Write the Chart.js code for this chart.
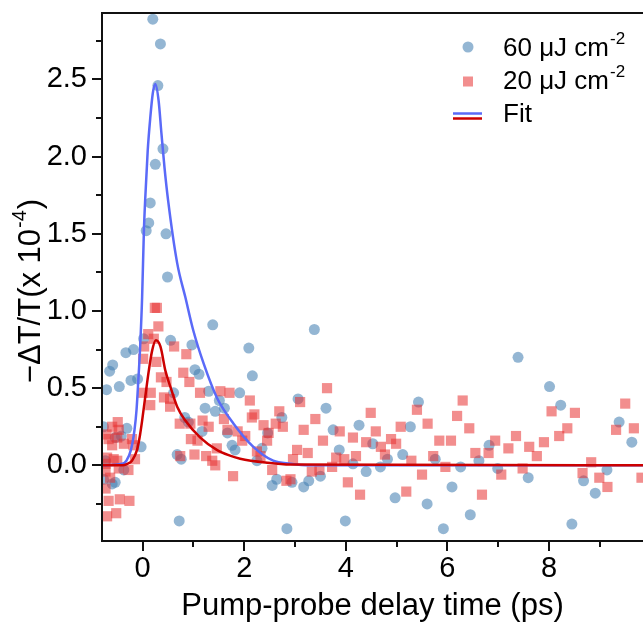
<!DOCTYPE html>
<html>
<head>
<meta charset="utf-8">
<script src="https://cdn.jsdelivr.net/npm/chart.js@4.4.0/dist/chart.umd.min.js"></script>
<style>
html,body{margin:0;padding:0;background:#fff;}
#wrap{width:643px;height:627px;position:relative;}
</style>
</head>
<body>
<div id="wrap"><canvas id="c" width="643" height="627"></canvas></div>
<script>
// ---- data ----
const blueLabel = '60 μJ cm⁻²';
const redLabel = '20 μJ cm⁻²';
const fitLabel = 'Fit';
const xTitle = 'Pump-probe delay time (ps)';
const yTitle = '−ΔT/T(x 10⁻⁴)';

const blueX = [0.20,0.35,0.30,0.40,0.25,0.15,0.12,0.07,0.46,0.49,1.38,2.09,0.55,0.97,0.02,-0.18,-0.33,-0.59,-0.65,2.16,1.03,1.11,-0.46,-0.71,-0.23,-0.10,0.61,1.30,1.91,1.51,1.61,1.43,1.23,0.83,0.90,-0.77,-0.31,-0.54,-0.42,-0.03,1.17,1.67,1.76,1.82,0.68,0.76,-0.73,-0.37,-0.54,-0.60,-0.77,0.72,3.06,3.61,2.74,4.26,3.75,2.46,3.87,2.35,2.25,4.14,3.50,2.64,3.27,2.94,2.55,3.17,3.99,2.84,3.38,5.43,5.27,4.53,6.82,5.12,4.82,5.76,6.62,4.68,6.26,6.99,4.40,6.09,4.97,5.60,6.45,5.92,8.01,8.23,9.38,9.63,7.59,8.68,9.14,8.91,8.45,7.39];
const blueY = [2.89,2.73,2.46,2.05,1.95,1.70,1.57,1.52,1.50,1.22,0.91,0.76,0.81,0.78,0.82,0.75,0.73,0.65,0.61,0.58,0.62,0.59,0.51,0.49,0.55,0.56,0.47,0.48,0.47,0.42,0.37,0.35,0.37,0.31,0.28,0.25,0.24,0.18,0.19,0.12,0.22,0.21,0.13,0.10,0.07,0.04,0.03,-0.03,-0.11,-0.12,-0.09,-0.36,0.43,0.37,0.31,0.26,0.23,0.21,0.10,0.11,0.03,0.01,-0.07,-0.09,-0.10,-0.11,-0.13,-0.14,-0.36,-0.41,0.88,0.41,0.25,0.14,0.13,0.07,0.04,0.04,0.03,-0.01,-0.01,-0.02,-0.04,-0.14,-0.21,-0.25,-0.32,-0.41,0.51,0.39,0.28,0.15,-0.08,-0.10,-0.03,-0.18,-0.38,0.70];

const redX = [0.24,0.28,0.31,0.11,0.22,0.03,0.62,0.01,0.27,0.86,0.36,0.80,0.92,0.47,0.00,0.16,0.42,0.54,0.15,0.54,1.13,1.53,1.71,2.11,0.73,0.94,1.18,1.30,1.60,2.20,2.15,2.69,2.76,2.38,2.62,0.95,1.08,1.67,1.87,2.02,1.96,1.46,1.25,1.02,1.37,1.43,2.55,1.78,2.25,0.74,-0.49,-0.60,-0.47,-0.71,-0.67,-0.50,-0.21,-0.18,-0.37,-0.60,-0.57,-0.50,-0.73,-0.15,-0.70,-0.47,-0.28,-0.73,-0.64,-0.73,-0.67,-0.45,-0.26,-0.70,-0.52,3.63,3.40,3.17,3.88,2.48,4.14,2.45,3.55,3.04,3.25,2.32,2.96,3.81,3.97,4.20,3.73,3.33,3.48,2.83,2.91,4.04,4.28,3.10,6.30,5.40,4.49,6.19,5.61,5.08,6.43,4.59,4.89,4.40,4.99,5.84,6.07,4.69,6.81,4.77,5.72,6.55,5.29,5.96,5.50,5.19,6.68,6.94,7.06,9.50,8.05,8.51,9.32,9.67,8.36,8.20,7.35,7.90,7.61,7.20,7.76,8.83,7.48,8.66,8.99,9.15,9.82];
const redY = [1.02,1.02,0.90,0.85,0.82,0.77,0.77,0.69,0.67,0.72,0.57,0.60,0.54,0.54,0.47,0.47,0.44,0.43,0.39,0.38,0.47,0.48,0.47,0.42,0.27,0.27,0.29,0.25,0.30,0.33,0.31,0.35,0.25,0.26,0.27,0.17,0.16,0.23,0.22,0.19,0.16,0.11,0.06,0.07,0.03,0.00,-0.03,-0.07,0.09,0.06,0.28,0.25,0.23,0.20,0.17,0.18,0.17,0.13,0.14,0.13,0.04,0.03,0.01,0.04,0.05,-0.02,-0.03,-0.04,-0.08,-0.15,-0.23,-0.22,-0.23,-0.33,-0.31,0.50,0.30,0.23,0.22,0.21,0.18,0.16,0.16,0.10,0.08,0.06,0.04,0.05,0.04,0.06,-0.01,-0.04,-0.03,-0.10,-0.09,-0.11,-0.19,0.41,0.42,0.36,0.34,0.32,0.27,0.25,0.24,0.22,0.17,0.15,0.14,0.16,0.16,0.12,0.08,0.07,0.06,0.08,0.03,-0.01,-0.06,-0.17,-0.19,0.16,-0.06,0.40,0.35,0.34,0.23,0.24,0.24,0.19,0.19,0.15,0.12,0.11,0.06,0.02,-0.02,-0.05,-0.08,-0.14,-0.08];

const blueFitX = [-0.80,-0.40,-0.32,-0.23,-0.16,-0.12,-0.085,-0.05,-0.01,0.025,0.05,0.10,0.15,0.20,0.25,0.315,0.37,0.43,0.50,0.68,0.84,1.00,1.20,1.46,1.79,2.18,2.57,2.91,3.30,9.85];
const blueFitY = [0,0.01,0.03,0.10,0.23,0.36,0.55,0.76,1.09,1.52,1.72,2.04,2.25,2.41,2.47,2.36,2.15,1.93,1.72,1.31,1.09,0.87,0.66,0.44,0.27,0.12,0.03,0.01,0,0];

const redFitX = [-0.80,-0.40,-0.30,-0.21,-0.11,-0.06,-0.01,0.05,0.12,0.185,0.26,0.35,0.45,0.545,0.68,0.84,1.135,1.46,1.72,1.92,2.45,2.91,9.85];
const redFitY = [0,0,0.01,0.03,0.10,0.18,0.29,0.44,0.61,0.74,0.81,0.77,0.61,0.51,0.38,0.29,0.18,0.10,0.063,0.043,0.017,0.005,0];

const xTickValues = [0,1,2,3,4,5,6,7,8,9];
const xTickLabels = ['0','','2','','4','','6','','8',''];
const yTickValues = [-0.25,0,0.25,0.5,0.75,1.0,1.25,1.5,1.75,2.0,2.25,2.5,2.75];
const yTickLabels = ['','0.0','','0.5','','1.0','','1.5','','2.0','','2.5',''];

// ---- styles ----
const FONT = '"Liberation Sans", Arial, Helvetica, sans-serif';
const bluePt = 'rgba(70,130,180,0.58)';
const redPt = 'rgba(232,50,50,0.55)';
const blueLine = '#5a6af8';
const redLine = '#cc0000';

const pts = (xs, ys) => xs.map((x, i) => ({x: x, y: ys[i]}));

// text with a raised, smaller superscript part: [base, sup, tail]
function drawSupText(ctx, parts, x, y, size, supSize, rise) {
  ctx.font = size + 'px ' + FONT;
  ctx.fillText(parts[0], x, y);
  let cx = x + ctx.measureText(parts[0]).width + 1;
  ctx.font = supSize + 'px ' + FONT;
  ctx.fillText(parts[1], cx, y - rise);
  cx += ctx.measureText(parts[1]).width + 1;
  if (parts[2]) {
    ctx.font = size + 'px ' + FONT;
    ctx.fillText(parts[2], cx, y);
  }
}
function supWidth(ctx, parts, size, supSize) {
  ctx.font = size + 'px ' + FONT;
  let w = ctx.measureText(parts[0]).width + 1 + (parts[2] ? ctx.measureText(parts[2]).width : 0);
  ctx.font = supSize + 'px ' + FONT;
  return w + ctx.measureText(parts[1]).width + 1;
}

const framePlugin = {
  id: 'frame',
  afterDraw(chart) {
    const ctx = chart.ctx;
    const a = chart.chartArea;
    const xs = chart.scales.x, ys = chart.scales.y;
    ctx.save();
    ctx.strokeStyle = '#111';
    ctx.lineWidth = 2;
    ctx.beginPath();
    ctx.moveTo(a.right + 2, a.top);
    ctx.lineTo(a.left, a.top);
    ctx.lineTo(a.left, a.bottom);
    ctx.lineTo(a.right + 2, a.bottom);
    ctx.stroke();
    // ticks
    ctx.beginPath();
    yTickValues.forEach((v, i) => {
      const p = Math.round(ys.getPixelForValue(v));
      const len = yTickLabels[i] !== '' ? 10 : 6;
      ctx.moveTo(a.left - len, p);
      ctx.lineTo(a.left, p);
    });
    xTickValues.forEach((v, i) => {
      const p = Math.round(xs.getPixelForValue(v));
      const len = xTickLabels[i] !== '' ? 10 : 6;
      ctx.moveTo(p, a.bottom);
      ctx.lineTo(p, a.bottom + len);
    });
    ctx.stroke();

    ctx.fillStyle = '#000';
    ctx.textBaseline = 'middle';
    ctx.textAlign = 'left';

    // y axis title (rotated)
    const yParts = ['−ΔT/T(x 10', '-4', ')'];
    ctx.save();
    ctx.translate(31, 291);
    ctx.rotate(-Math.PI / 2);
    const tw = supWidth(ctx, yParts, 31, 20);
    drawSupText(ctx, yParts, -tw / 2, 0, 31, 20, 11);
    ctx.restore();

    // legend
    ctx.fillStyle = bluePt;
    ctx.beginPath();
    ctx.arc(468, 47, 5.5, 0, Math.PI * 2);
    ctx.fill();
    ctx.fillStyle = redPt;
    ctx.fillRect(463, 76.5, 10, 10);
    ctx.lineWidth = 2.5;
    ctx.strokeStyle = blueLine;
    ctx.beginPath(); ctx.moveTo(453, 113.5); ctx.lineTo(482, 113.5); ctx.stroke();
    ctx.strokeStyle = redLine;
    ctx.beginPath(); ctx.moveTo(453, 118.5); ctx.lineTo(482, 118.5); ctx.stroke();

    ctx.fillStyle = '#000';
    drawSupText(ctx, ['60 μJ cm', '-2', ''], 503, 49, 26, 17, 10);
    drawSupText(ctx, ['20 μJ cm', '-2', ''], 503, 82, 26, 17, 10);
    ctx.font = '26px ' + FONT;
    ctx.fillText(fitLabel, 503, 115);
    ctx.restore();
  }
};

new Chart(document.getElementById('c'), {
  type: 'scatter',
  data: {
    datasets: [
      {label: fitLabel, data: pts(redFitX, redFitY), showLine: true, borderColor: redLine, borderWidth: 2.5,
        pointRadius: 0, cubicInterpolationMode: 'monotone', fill: false, order: 0},
      {label: fitLabel, data: pts(blueFitX, blueFitY), showLine: true, borderColor: blueLine, borderWidth: 2.5,
        pointRadius: 0, cubicInterpolationMode: 'monotone', fill: false, order: 1},
      {label: redLabel, data: pts(redX, redY), pointStyle: 'rect', pointRadius: 7.2, backgroundColor: redPt,
        borderWidth: 0, order: 2},
      {label: blueLabel, data: pts(blueX, blueY), pointStyle: 'circle', pointRadius: 5.5, backgroundColor: bluePt,
        borderWidth: 0, order: 3}
    ]
  },
  options: {
    responsive: false,
    devicePixelRatio: 1,
    animation: false,
    layout: {autoPadding: false, padding: {top: 13, right: 0, left: 0, bottom: 0}},
    plugins: {legend: {display: false}, tooltip: {enabled: false}},
    elements: {point: {hoverRadius: 0}},
    scales: {
      x: {
        type: 'linear', min: -0.8, max: 9.85,
        afterBuildTicks: (s) => { s.ticks = xTickValues.map(v => ({value: v})); },
        afterFit: (s) => { s.height = 86; s.paddingLeft = 0; s.paddingRight = 0; },
        grid: {display: false, drawTicks: false},
        border: {display: false},
        ticks: {autoSkip: false, maxRotation: 0, padding: 11, color: '#000',
          font: {family: FONT, size: 29},
          callback: (v, i) => xTickLabels[i]},
        title: {display: true, text: xTitle, color: '#000',
          font: {family: FONT, size: 31}, padding: {top: 0, bottom: 2}}
      },
      y: {
        type: 'linear', min: -0.49, max: 2.93,
        afterBuildTicks: (s) => { s.ticks = yTickValues.map(v => ({value: v})); },
        afterFit: (s) => { s.width = 102; s.paddingTop = 0; s.paddingBottom = 0; },
        grid: {display: false, drawTicks: false},
        border: {display: false},
        ticks: {autoSkip: false, padding: 15, color: '#000',
          font: {family: FONT, size: 29},
          callback: (v, i) => yTickLabels[i]},
        title: {display: false, text: yTitle}
      }
    }
  },
  plugins: [framePlugin]
});
</script>
</body>
</html>
